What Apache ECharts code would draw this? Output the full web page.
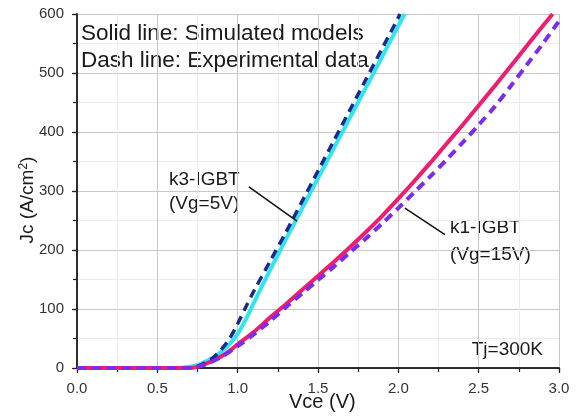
<!DOCTYPE html>
<html><head><meta charset="utf-8">
<script src="https://cdn.jsdelivr.net/npm/echarts@6/dist/echarts.min.js"></script>
<style>html,body{margin:0;padding:0;background:#fff}#c{width:582px;height:417px}</style>
</head><body><div id="c"></div>
<script>
// Vce (V) sample points and Jc (A/cm2) values
const k3SimV = [0, 0.3, 0.6, 0.65, 0.7, 0.75, 0.8, 0.85, 0.9, 0.95, 1.0, 1.05, 1.1, 1.15, 1.2, 1.3, 1.4, 1.5, 1.6, 1.7, 1.8, 1.9, 2.0, 2.04];
const k3SimJ = [0, 0, 0, 0.5, 2, 5, 11, 18, 28, 41, 58, 82, 110, 138, 165, 218, 270, 322, 373, 425, 476, 528, 580, 600];
const k3ExpV = [0, 0.3, 0.68, 0.72, 0.75, 0.8, 0.85, 0.9, 0.95, 1.0, 1.05, 1.1, 1.2, 1.3, 1.4, 1.5, 1.6, 1.7, 1.8, 1.9, 2.0, 2.01];
const k3ExpJ = [0, 0, 0, 1, 3, 9, 18, 32, 50, 75, 103, 130, 180, 230, 282, 334, 386, 438, 490, 542, 594, 600];
const k1SimV = [0, 0.3, 0.68, 0.72, 0.75, 0.8, 0.85, 0.9, 0.95, 1.0, 1.1, 1.2, 1.3, 1.4, 1.5, 1.6, 1.7, 1.8, 1.9, 2.0, 2.1, 2.2, 2.3, 2.4, 2.5, 2.6, 2.7, 2.8, 2.9, 2.96];
const k1SimJ = [0, 0, 0, 0.5, 2, 7, 13, 20, 29, 40, 61, 85, 108, 132, 156, 180, 205, 231, 258, 287, 317, 348, 380, 412, 445, 478, 512, 546, 580, 600];
const k1ExpV = [0, 0.3, 0.7, 0.75, 0.8, 0.9, 1.0, 1.1, 1.2, 1.3, 1.4, 1.5, 1.6, 1.7, 1.8, 1.9, 2.0, 2.1, 2.2, 2.3, 2.4, 2.5, 2.6, 2.7, 2.8, 2.9, 3.0];
const k1ExpJ = [0, 0, 0, 2, 6, 19, 37, 57, 79, 103, 126, 149, 172, 196, 220, 245, 271, 298, 325, 353, 382, 412, 443, 478, 514, 550, 588];
const xTicks = ['0.0', '0.5', '1.0', '1.5', '2.0', '2.5', '3.0'];
const yTicks = ['0', '100', '200', '300', '400', '500', '600'];

const zip = (a, b) => a.map((v, i) => [v, b[i]]);
const FONT = '"Liberation Sans", Arial, sans-serif';
const chart = echarts.init(document.getElementById('c'), null, {renderer: 'canvas'});
const axisLine = {show: true, lineStyle: {color: '#222', width: 1.5}};
chart.setOption({
  animation: false,
  backgroundColor: '#fff',
  grid: {left: 77, right: 23, top: 14, bottom: 49, containLabel: false},
  xAxis: [{
    type: 'value', min: 0, max: 3, interval: 0.5, position: 'bottom',
    axisLine: axisLine,
    axisTick: {show: true, inside: false, length: 5, lineStyle: {color: '#222', width: 1.2}},
    minorTick: {show: true, splitNumber: 2, length: 3, lineStyle: {color: '#222', width: 1}},
    axisLabel: {margin: 13, fontSize: 15, color: '#333', fontFamily: FONT,
      formatter: v => xTicks[Math.round(v * 2)]},
    splitLine: {show: true, lineStyle: {color: '#c8c8c8', width: 1}},
    minorSplitLine: {show: true, lineStyle: {color: '#ececec', width: 1}}
  }, {
    type: 'value', min: 0, max: 3, interval: 0.25, position: 'top',
    axisLine: axisLine,
    axisTick: {show: true, inside: true, length: 4, lineStyle: {color: '#222', width: 1.2}},
    axisLabel: {show: false}, splitLine: {show: false}
  }],
  yAxis: [{
    type: 'value', min: 0, max: 600, interval: 100, position: 'left',
    axisLine: axisLine,
    axisTick: {show: true, inside: false, length: 5, lineStyle: {color: '#222', width: 1.2}},
    minorTick: {show: true, splitNumber: 2, length: 3, lineStyle: {color: '#222', width: 1}},
    axisLabel: {margin: 13, fontSize: 15, color: '#333', fontFamily: FONT,
      formatter: v => yTicks[Math.round(v / 100)]},
    splitLine: {show: true, lineStyle: {color: '#c8c8c8', width: 1}},
    minorSplitLine: {show: true, lineStyle: {color: '#ececec', width: 1}}
  }, {
    type: 'value', min: 0, max: 600, interval: 50, position: 'right',
    axisLine: axisLine,
    axisTick: {show: true, inside: true, length: 4, lineStyle: {color: '#222', width: 1.2}},
    axisLabel: {show: false}, splitLine: {show: false}
  }],
  series: [
    {name: 'k3 sim', type: 'line', data: zip(k3SimV, k3SimJ), showSymbol: false, smooth: 0.3, z: 3,
      lineStyle: {color: '#2ee6f2', width: 4}},
    {name: 'k3 exp', type: 'line', data: zip(k3ExpV, k3ExpJ), showSymbol: false, smooth: 0.3, z: 4,
      lineStyle: {color: '#1d2a8a', width: 3.5, type: [9, 6]}},
    {name: 'k1 sim', type: 'line', data: zip(k1SimV, k1SimJ), showSymbol: false, smooth: 0.3, z: 3,
      lineStyle: {color: '#f01c6e', width: 4}},
    {name: 'k1 exp', type: 'line', data: zip(k1ExpV, k1ExpJ), showSymbol: false, smooth: 0.3, z: 4,
      lineStyle: {color: '#7b2cf0', width: 4, type: [9, 6]},
      markLine: {silent: true, symbol: ['none', 'arrow'], symbolSize: [0, 11], label: {show: false},
        lineStyle: {color: '#111', width: 1.5, type: 'solid'},
        data: [
          [{coord: [1.07, 307]}, {coord: [1.369, 249]}],
          [{coord: [2.29, 226]}, {coord: [2.041, 271]}]
        ]}}
  ],
  graphic: [
    {type: 'text', left: 81, top: 22, style: {text: 'Solid line: Simulated models', font: '22.5px ' + FONT, fill: '#1a1a1a'}},
    {type: 'text', left: 81, top: 49, style: {text: 'Dash line: Experimental data', font: '22.5px ' + FONT, fill: '#1a1a1a'}},
    {type: 'text', left: 169, top: 168, style: {text: 'k3-IGBT\n(Vg=5V)', font: '19px ' + FONT, lineHeight: 24, fill: '#1a1a1a'}},
    {type: 'text', left: 450, top: 214, style: {text: 'k1-IGBT\n(Vg=15V)', font: '19px ' + FONT, lineHeight: 27, fill: '#1a1a1a'}},
    {type: 'text', right: 39, top: 340, style: {text: 'Tj=300K', font: '19px ' + FONT, fill: '#1a1a1a'}},
    {type: 'text', left: 289, top: 392, style: {text: 'Vce (V)', font: '20px ' + FONT, fill: '#1a1a1a'}},
    {type: 'text', x: 28, y: 200, rotation: Math.PI / 2,
      style: {rich: {n: {fontSize: 19, fontFamily: FONT, fill: '#1a1a1a'}, s: {fontSize: 12, fontFamily: FONT, fill: '#1a1a1a', verticalAlign: 'top', padding: [0, 0, 8, 0]}},
        text: '{n|Jc (A/cm}{s|2}{n|)}', align: 'center', verticalAlign: 'middle'}}
  ]
});
</script></body></html>
